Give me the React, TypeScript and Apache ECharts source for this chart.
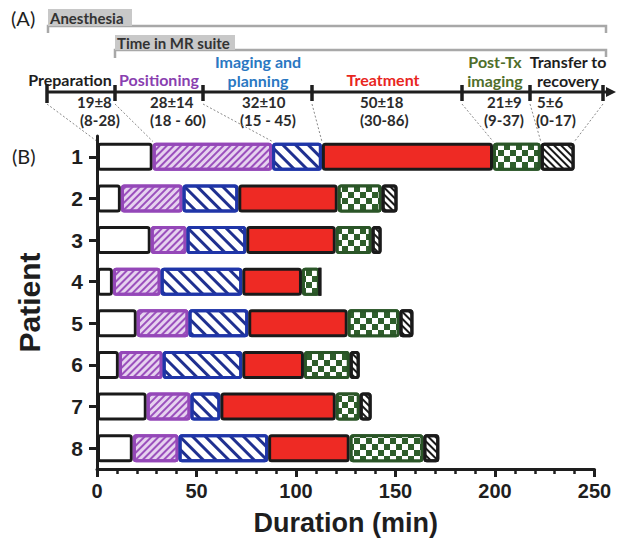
import React, { useEffect, useRef } from "react";
import * as echarts from "echarts";

// ---- data ----
const patients = ["1", "2", "3", "4", "5", "6", "7", "8"];
const preparation = [28, 12, 27, 8, 20, 11, 25, 18];
const positioning = [60, 31, 18, 24, 26, 22, 22, 23];
const imagingPlanning = [25, 28, 30, 41, 30, 40, 15, 45];
const treatment = [86, 50, 45, 30, 50, 31, 58, 41];
const postTxImaging = [24, 22, 18, 9, 26, 23, 12, 37];
const transfer = [17, 8, 5, 0, 7, 5, 6, 8];

const phaseLabels = [
  ["Preparation"],
  ["Positioning"],
  ["Imaging and", "planning"],
  ["Treatment"],
  ["Post-Tx", "imaging"],
  ["Transfer to", "recovery"],
];
const phaseMeans = ["19±8", "28±14", "32±10", "50±18", "21±9", "5±6"];
const phaseRanges = ["(8-28)", "(18 - 60)", "(15 - 45)", "(30-86)", "(9-37)", "(0-17)"];
const xTicks = [0, 50, 100, 150, 200, 250];

// ---- layout / style ----
const FONT_AX = "'Liberation Sans', Arial, sans-serif";
const FONT_TL = "Lato, 'Open Sans', sans-serif";
const timelineTickX = [47, 115, 203, 312, 462, 530, 603];
const labelCenterX = [70, 159, 258, 383, 495, 568];
const labelColors = ["#1e1e1e", "#8a3fb0", "#2a78c2", "#e8261e", "#4f6e2a", "#1e1e1e"];
const statLeftX = [77, 150, 242, 360, 487, 537];
const rangeLeftX = [80, 150, 240, 360, 484, 536];
const BAR_W = 28;

export default function App() {
  const ref = useRef<HTMLDivElement>(null);
  useEffect(() => {
    if (!ref.current) return;
    document.body.style.margin = "0";
    const chart = echarts.init(ref.current, null, { renderer: "svg" });

    const stripe = (color: string, rot: number, dy: number[]) => ({
      symbol: "rect",
      symbolSize: 1,
      color,
      dashArrayX: [1, 0],
      dashArrayY: dy,
      rotation: rot,
    });

    const seriesDefs = [
      { name: "Preparation", data: preparation, color: "#ffffff", border: "#1a1a1a", decal: undefined },
      { name: "Positioning", data: positioning, color: "#e6d2ef", border: "#9447b8", decal: stripe("#9b50bd", -Math.PI / 4, [1.5, 2.4]) },
      { name: "Imaging and planning", data: imagingPlanning, color: "#ffffff", border: "#1f35a8", decal: stripe("#1f3090", Math.PI / 4, [3, 5.5]) },
      { name: "Treatment", data: treatment, color: "#ee2a24", border: "#1a1a1a", decal: undefined },
      {
        name: "Post-Tx imaging",
        data: postTxImaging,
        color: "#2f5e2b",
        border: "#2a5527",
        decal: { symbol: "rect", symbolSize: 1, color: "#ffffff", dashArrayX: [[6, 6], [0, 6, 6, 0]], dashArrayY: [6, 0] },
      },
      { name: "Transfer to recovery", data: transfer, color: "#ffffff", border: "#1a1a1a", decal: stripe("#1a1a1a", Math.PI / 4, [2, 2.3]) },
    ];

    const option: any = {
      animation: false,
      grid: { left: 97, right: 24.5, top: 136, bottom: 76, containLabel: false },
      xAxis: {
        type: "value",
        min: 0,
        max: 250,
        interval: 50,
        name: "Duration (min)",
        nameLocation: "middle",
        nameGap: 40,
        nameTextStyle: { fontFamily: FONT_AX, fontWeight: "bold", fontSize: 27, color: "#1e1e1e" },
        axisLine: { show: true, lineStyle: { color: "#1e1e1e", width: 3 } },
        axisTick: { show: true, length: 8, lineStyle: { color: "#1e1e1e", width: 3 } },
        minorTick: { show: true, splitNumber: 5, length: 5, lineStyle: { color: "#1e1e1e", width: 2.5 } },
        splitLine: { show: false },
        axisLabel: {
          fontFamily: FONT_AX,
          fontWeight: "bold",
          fontSize: 20,
          color: "#1e1e1e",
          margin: 12,
          formatter: (v: number) => (xTicks.includes(v) ? String(v) : ""),
        },
      },
      yAxis: {
        type: "category",
        data: patients,
        inverse: true,
        name: "Patient",
        nameLocation: "middle",
        nameGap: 53,
        nameRotate: 90,
        nameTextStyle: { fontFamily: FONT_AX, fontWeight: "bold", fontSize: 30, color: "#1e1e1e" },
        axisLine: { show: true, lineStyle: { color: "#1e1e1e", width: 3 } },
        axisTick: { show: true, alignWithLabel: true, length: 8, lineStyle: { color: "#1e1e1e", width: 3 } },
        axisLabel: { fontFamily: FONT_AX, fontWeight: "bold", fontSize: 21, color: "#1e1e1e", margin: 14 },
      },
      series: seriesDefs.map((s) => ({
        type: "bar",
        name: s.name,
        stack: "total",
        barWidth: BAR_W,
        data: s.data,
        itemStyle: {
          color: s.color,
          borderColor: s.border,
          borderWidth: 3,
          borderRadius: 2,
          decal: s.decal,
        },
      })),
    };
    chart.setOption(option);

    // timeline graphics
    const g: any[] = [];
    g.push({ type: "text", x: 11, y: 18, style: { text: "(A)", font: `20px ${FONT_TL}`, fill: "#1e1e1e", textVerticalAlign: "middle" } });
    g.push({ type: "text", x: 12, y: 156, style: { text: "(B)", font: `20px ${FONT_TL}`, fill: "#1e1e1e", textVerticalAlign: "middle" } });
    // Anesthesia bracket
    g.push({ type: "polyline", shape: { points: [[48, 33], [48, 26], [606, 26], [606, 33]] }, style: { stroke: "#a8a8a8", lineWidth: 2.5, fill: null } });
    g.push({ type: "rect", shape: { x: 48, y: 9, width: 84, height: 17 }, style: { fill: "#c8c8c8" } });
    g.push({ type: "text", x: 50, y: 18, style: { text: "Anesthesia", font: `bold 15px ${FONT_TL}`, fill: "#333", textVerticalAlign: "middle" } });
    // MR suite bracket
    g.push({ type: "polyline", shape: { points: [[115, 58], [115, 50], [606, 50], [606, 57]] }, style: { stroke: "#a8a8a8", lineWidth: 2.5, fill: null } });
    g.push({ type: "rect", shape: { x: 115, y: 35, width: 120, height: 15 }, style: { fill: "#c8c8c8" } });
    g.push({ type: "text", x: 117, y: 43, style: { text: "Time in MR suite", font: `bold 15px ${FONT_TL}`, fill: "#333", textVerticalAlign: "middle" } });
    // main timeline
    g.push({ type: "line", shape: { x1: 47, y1: 92, x2: 609, y2: 92 }, style: { stroke: "#1e1e1e", lineWidth: 3 } });
    g.push({ type: "polygon", shape: { points: [[606, 87], [616, 92], [606, 97]] }, style: { fill: "#1e1e1e" } });
    timelineTickX.forEach((x, i) => {
      g.push({ type: "line", shape: { x1: x, y1: i === 0 ? 84 : 85, x2: x, y2: i === 0 ? 103 : 101 }, style: { stroke: "#1e1e1e", lineWidth: 3.5 } });
    });
    phaseLabels.forEach((lines, i) => {
      lines.forEach((t, j) => {
        const y = lines.length === 1 ? 79 : j === 0 ? 61 : 80;
        g.push({
          type: "text",
          x: labelCenterX[i],
          y,
          style: { text: t, font: `bold 16px ${FONT_TL}`, fill: labelColors[i], textAlign: "center", textVerticalAlign: "middle" },
        });
      });
      g.push({ type: "text", x: statLeftX[i], y: 102, style: { text: phaseMeans[i], font: `bold 15px ${FONT_TL}`, fill: "#2a2a2a", textVerticalAlign: "middle" } });
      g.push({ type: "text", x: rangeLeftX[i], y: 120, style: { text: phaseRanges[i], font: `bold 15px ${FONT_TL}`, fill: "#2a2a2a", textVerticalAlign: "middle" } });
    });
    // dotted connectors to patient 1 boundaries
    const p1 = [preparation[0], positioning[0], imagingPlanning[0], treatment[0], postTxImaging[0], transfer[0]];
    const cum = [0];
    p1.forEach((v) => cum.push(cum[cum.length - 1] + v));
    cum.forEach((v, i) => {
      const pt = chart.convertToPixel({ gridIndex: 0 } as any, [v, 0]) as number[];
      if (!pt) return;
      const top = pt[1] - BAR_W / 2 - 1.5;
      g.push({
        type: "line",
        shape: { x1: timelineTickX[i], y1: 104, x2: pt[0], y2: top },
        style: { stroke: "#8a8a8a", lineWidth: 1, lineDash: [2, 2] },
      });
    });
    chart.setOption({ graphic: { elements: g } });

    return () => chart.dispose();
  }, []);
  return <div ref={ref} style={{ width: 619, height: 545 }} />;
}
